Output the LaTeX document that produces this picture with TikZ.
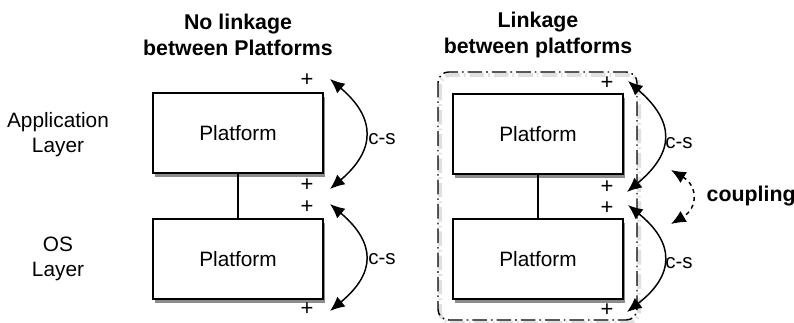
\documentclass[tikz,border=0pt]{standalone}
\usepackage{fontspec}
\setmainfont{Liberation Sans}
\usetikzlibrary{arrows.meta,shadows}
\begin{document}
\begin{tikzpicture}[x=0.75pt,y=-0.75pt,
  >={Latex[length=11pt,width=9.5pt]},
  platform/.style={draw,line width=1pt,fill=white,minimum width=127.5pt,minimum height=60pt,
    font=\fontsize{15.6}{18}\selectfont,
    drop shadow={shadow xshift=1.6pt,shadow yshift=-2.8pt,opacity=0.6,fill=black!75}},
  title/.style={font=\bfseries\fontsize{16}{19.5}\selectfont,align=center},
  side/.style={font=\fontsize{15.6}{18.8}\selectfont,align=center},
  cs/.style={font=\fontsize{15.4}{18}\selectfont},
  plus/.style={font=\fontsize{16.5}{16}\selectfont,inner sep=0pt},
  cs arrow/.style={line width=1.1pt,<->},
  link/.style={line width=1pt},
  group/.style={line width=1.1pt,rounded corners=8pt,dash pattern=on 11pt off 3pt on 1.2pt off 3pt}]
\useasboundingbox (0,0) rectangle (794,323);

% column titles
\node[title] (t1) at (238,35) {No linkage\\between Platforms};
\node[title] (t2) at (538,35) {Linkage\\between platforms};

% layer labels
\node[side] (app) at (58,135) {Application\\Layer};
\node[side] (os) at (58,259) {OS\\Layer};

% dash-dot group around the linked platforms (with faint shadow)
\draw[group,draw=black!12,line width=3pt,shift={(2,3)}] (438,72) rectangle (637,320);
\draw[group] (438,72) rectangle (637,320);

% platforms
\node[platform] (la) at (238,133) {Platform};
\node[platform] (lo) at (238,259) {Platform};
\node[platform] (ra) at (538,134) {Platform};
\node[platform] (ro) at (538,259) {Platform};
\draw[link] (la.south) -- (lo.north);
\draw[link] (ra.south) -- (ro.north);

% plus marks
\node[plus] (p1) at (307,80) {+};
\node[plus] (p2) at (307,185) {+};
\node[plus] (p3) at (307,207) {+};
\node[plus] (p4) at (307,309) {+};
\node[plus] (q1) at (607,83) {+};
\node[plus] (q2) at (607,187) {+};
\node[plus] (q3) at (607,208) {+};
\node[plus] (q4) at (607,310) {+};

% arrow end points
\coordinate (a1) at (330,79);
\coordinate (a2) at (330,189);
\coordinate (a3) at (330,204);
\coordinate (a4) at (330,311);
\coordinate (b1) at (628,81);
\coordinate (b2) at (627,192);
\coordinate (b3) at (628,205);
\coordinate (b4) at (627,312);

% client-server arrows
\draw[cs arrow] (a1) .. controls (376,118) and (376,150) .. (a2);
\draw[cs arrow] (a3) .. controls (376,243) and (376,273) .. (a4);
\draw[cs arrow] (b1) .. controls (675,122) and (675,152) .. (b2);
\draw[cs arrow] (b3) .. controls (675,243) and (675,275) .. (b4);
\node[cs] (c1) at (382,139) {c-s};
\node[cs] (c2) at (382,259) {c-s};
\node[cs] (c3) at (679,143) {c-s};
\node[cs] (c4) at (679,263) {c-s};

% coupling between the layers
\coordinate (k1) at (671,170);
\coordinate (k2) at (671,224);
\draw[line width=1.1pt,dashed,<->]
  (k1) .. controls (698,186) and (698,208) .. (k2);
\node[title,anchor=west] (cp) at (702,196) {coupling};
\end{tikzpicture}
\end{document}
